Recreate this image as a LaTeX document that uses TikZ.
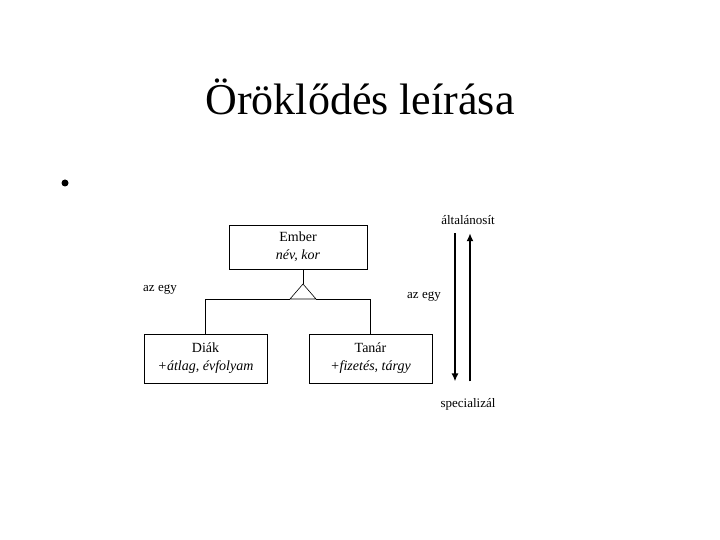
\documentclass[tikz,border=0pt]{standalone}
\usepackage{fontspec}
\setmainfont{Liberation Serif}
\usetikzlibrary{positioning,arrows.meta}

\begin{document}
\begin{tikzpicture}[x=1pt, y=-1pt, semithick, class/.style={draw, black, align=center, inner sep=0pt, font=\fontsize{14}{18}\selectfont}, note/.style={font=\fontsize{13}{15}\selectfont}, move/.style={-{Latex[length=8pt,width=7pt]}, line width=1.8pt}]
	\useasboundingbox (0,0) rectangle (720,540);
	\node (title) at (360,97) {\fontsize{44}{50}\selectfont Öröklődés leírása};
	\node[circle, fill, inner sep=0pt, minimum size=7pt] (bullet) at (65,183) {};
	
	\node[class, minimum width=138pt, minimum height=44pt] (E) at (298,247) {Ember\\\textit{név, kor}};
	\node[class, minimum width=123pt, minimum height=49pt] (D) at (205.5,358.5) {Diák\\\textit{+átlag, évfolyam}};
	\node[class, minimum width=123pt, minimum height=49pt] (T) at (370.5,358.5) {Tanár\\\textit{+fizetés, tárgy}};
	
	\coordinate (apex) at (303,284);
	\coordinate (bl) at (290,299);
	\coordinate (br) at (316,299);
	\draw ([xshift=5pt]E.south) -- (apex);
	\draw (apex) -- (bl) -- (br) -- cycle;
	\draw (D.north) |- (bl);
	\draw (T.north) |- (br);
	
	\node[note] (az1) at (160,290) {az egy};
	\node[note] (az2) at (424,297) {az egy};
	
	\node[note] (gen) at (468,220) {általánosít};
	\node[note] (spec) at (468,404) {specializál};
	\draw[move] ([xshift=-13pt,yshift=-5pt]gen.south) -- ([xshift=-13pt,yshift=13pt]spec.north);
	\draw[move] ([xshift=2pt,yshift=13pt]spec.north) -- ([xshift=2pt,yshift=-5pt]gen.south);
\end{tikzpicture}
\end{document}
